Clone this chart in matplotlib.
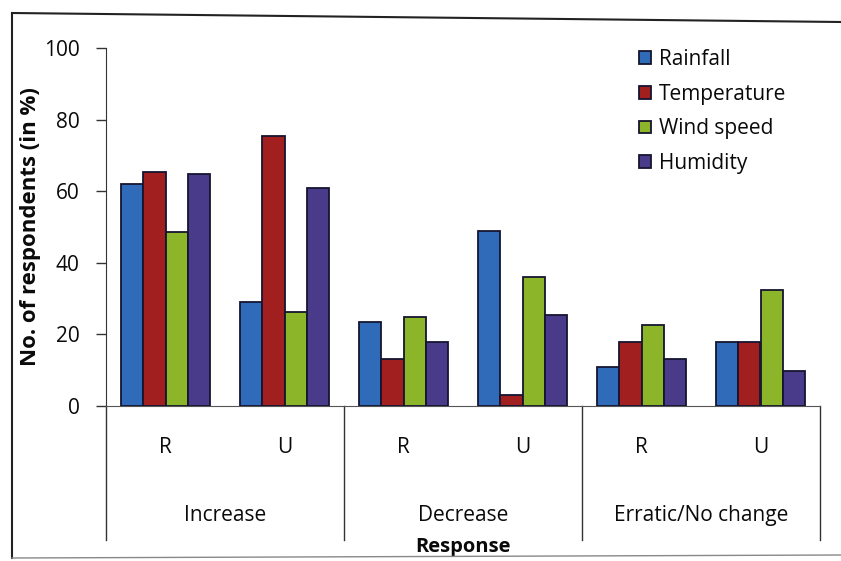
import matplotlib
matplotlib.use("Agg")
import matplotlib.pyplot as plt
import matplotlib.transforms as mtransforms
from matplotlib.lines import Line2D
import numpy as np

plt.rcParams['font.family'] = ['Open Sans', 'DejaVu Sans']

# Data
responses = ["Increase", "Decrease", "Erratic/No change"]
locations = ["R", "U"]
series = ["Rainfall", "Temperature", "Wind speed", "Humidity"]
rainfall = [62, 29, 23.5, 49, 11, 18]
temperature = [65.3, 75.3, 13, 3, 18, 18]
wind_speed = [48.5, 26.3, 25, 36, 22.5, 32.3]
humidity = [64.8, 61, 18, 25.5, 13, 9.8]
yticks = [0, 20, 40, 60, 80, 100]

values = [rainfall, temperature, wind_speed, humidity]
colors = ["#2f6bb8", "#a1201f", "#8db52a", "#4a3a8a"]
edge = "#151530"
txt = "#0a0a0a"

fig = plt.figure(figsize=(8.41, 5.61), dpi=100)
ax = fig.add_axes([106/841, 1-406/561, (820-106)/841, (406-48)/561])

n = len(rainfall)
x = np.arange(n)
w = 0.185
for i, (vals, c) in enumerate(zip(values, colors)):
    ax.bar(x + (i - 1.5) * w, vals, width=w, color=c, edgecolor=edge,
           linewidth=1.3, label=series[i], zorder=3)

ax.set_xlim(-0.5, n - 0.5)
ax.set_ylim(0, 100)
ax.set_yticks(yticks)
ax.tick_params(axis='y', labelsize=15, length=7, width=1, direction='out',
               pad=12, colors='#333333', labelcolor=txt)
ax.tick_params(axis='x', bottom=False, labelbottom=False)
for s in ["top", "right"]:
    ax.spines[s].set_visible(False)
ax.spines["left"].set_color("#333333")
ax.spines["bottom"].set_color("#555555")

# Grouped category axis drawn below the plot
trans = mtransforms.blended_transform_factory(ax.transData, ax.transAxes)
for b in [-0.5, 1.5, 3.5, 5.5]:
    ax.add_line(Line2D([b, b], [0, -0.375], transform=trans, color="#333333",
                       linewidth=1, clip_on=False))
for k in range(n):
    ax.text(x[k], -0.115, locations[k % 2], transform=trans, ha='center',
            va='center', fontsize=15, color=txt)
for j, r in enumerate(responses):
    ax.text(2 * j + 0.5, -0.305, r, transform=trans, ha='center', va='center',
            fontsize=15, color=txt)
ax.text(2.5, -0.395, "Response", transform=trans, ha='center', va='center',
        fontsize=14.5, fontweight='bold', color=txt)

ax.set_ylabel("No. of respondents (in %)", fontsize=16, fontweight='bold',
              labelpad=2, color=txt)

leg = ax.legend(loc='upper left', bbox_to_anchor=(0.72, 1.05), frameon=False,
                fontsize=15, handlelength=0.58, handleheight=0.55,
                handletextpad=0.4, labelspacing=0.66)
for t in leg.get_texts():
    t.set_color(txt)

# Outer frame of the chart area
fig.add_artist(Line2D([12/841, 12/841], [1-14/561, 1-558/561],
                      transform=fig.transFigure, color='#222222', linewidth=1.5))
fig.add_artist(Line2D([12/841, 1.0], [1-13/561, 1-22/561],
                      transform=fig.transFigure, color='#222222', linewidth=1.5))
fig.add_artist(Line2D([12/841, 1.0], [1-558/561, 1-555/561],
                      transform=fig.transFigure, color='#888888', linewidth=1))

fig.savefig("out.png", dpi=100, facecolor='white')
